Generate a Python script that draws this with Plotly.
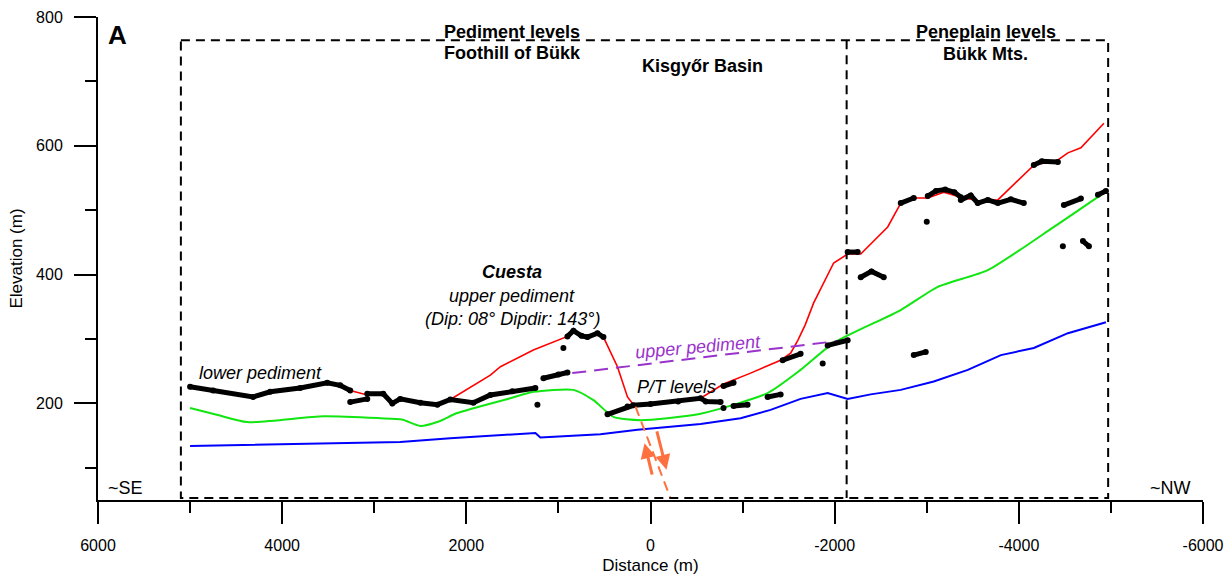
import plotly.graph_objects as go

FONT = "Liberation Sans, Arial, sans-serif"

# ---------------- data ----------------
blue_x = [5000, 3805, 2718, 2174, 1522, 1250, 1196, 544, 141, -544, -978, -1304, -1630, -1924, -2141, -2391,
          -2718, -3076, -3446, -3805, -4163, -4533, -4946]
blue_y = [134, 137, 140, 146, 151, 154, 147, 152, 159, 168, 177, 190, 207, 216, 207, 214,
          221, 234, 252, 275, 286, 309, 326]

green_x = [5000, 4700, 4380, 3554, 2935, 2700, 2500, 2300, 2098, 1522, 1272, 837, 620, 402, 109, -544, -1272,
           -1630, -1989, -2718, -3120, -3663, -4380, -4924]
green_y = [193, 182, 171, 180, 177, 175, 165, 172, 185, 208, 218, 221, 205, 179, 174, 184, 216,
           252, 294, 345, 381, 407, 474, 527]

red_x = [5000, 4315, 4130, 3511, 3261, 3076, 2902, 2804, 2718, 2500, 2315, 2174, 1739, 1630, 1272, 902, 837,
         685, 576, 511, 359, 250, 185, -109, -544, -793, -1087, -1413, -1522, -1600, -1680, -1772, -1989,
         -2141, -2283, -2576, -2718, -2859, -3011, -3185, -3370, -3587, -3772, -4163, -4424, -4533, -4674, -4924]
red_y = [226, 210, 218, 232, 220, 213, 214, 200, 206, 201, 198, 206, 244, 257, 283, 304, 313,
         303, 309, 303, 257, 210, 198, 200, 208, 230, 247, 267, 278, 298, 322, 356, 418,
         432, 432, 474, 511, 519, 519, 528, 520, 514, 516, 570, 578, 589, 597, 635]

# black "level" segments (None separates segments)
levels_x = [5000, 4750, 4315, 4130, 3805, 3511, 3370, 3261, None,
            3076, 2902, 2804, 2718, 2500, 2315, 2174, 1924, 1739, 1500, 1250, None,
            3261, 3076, None,
            1228, None,
            946, None,
            1163, 1000, 902, None,
            902, 837, 750, 685, 576, 511, None,
            467, 250, 185, 0, -300, -544, -600, -761, None,
            -793, None,
            -902, -1054, None,
            -793, -902, None,
            -1272, -1413, None,
            -1435, -1630, None,
            -1870, None,
            -1924, -2141, None,
            -2141, -2250, None,
            -2283, -2400, -2533, None,
            -3000, None,
            -2859, -2989, None,
            -2718, -2859, None,
            -3011, -3100, -3200, -3300, -3370, None,
            -3370, -3478, -3554, -3663, -3772, -3913, -4054, None,
            -4163, -4250, -4424, None,
            -4489, -4674, None,
            -4478, None,
            -4696, -4761, None,
            -4859, -4946]
levels_y = [226, 220, 210, 218, 224, 232, 228, 220, None,
            215, 215, 200, 207, 201, 198, 206, 201, 213, 219, 224, None,
            202, 207, None,
            198, None,
            286, None,
            239, 245, 248, None,
            304, 313, 305, 303, 309, 303, None,
            183, 195, 197, 199, 203, 208, 203, 202, None,
            193, None,
            196, 198, None,
            227, 232, None,
            210, 214, None,
            267, 277, None,
            262, None,
            290, 298, None,
            435, 435, None,
            396, 405, 396, None,
            482, None,
            275, 280, None,
            511, 519, None,
            522, 530, 532, 528, 520, None,
            516, 523, 511, 516, 511, 517, 511, None,
            570, 576, 575, None,
            508, 518, None,
            444, None,
            452, 444, None,
            524, 530]

upper_ped_x = [1087, -2098]
upper_ped_y = [243, 298]

fault_x = [163, -217]
fault_y = [195, 53]

box_left, box_mid, box_right = 5100, -2130, -4970
box_top, box_bottom = 764, 53

x_ticks = [6000, 4000, 2000, 0, -2000, -4000, -6000]
y_ticks = [200, 400, 600, 800]

# ---------------- figure ----------------
fig = go.Figure()

fig.add_trace(go.Scatter(x=blue_x, y=blue_y, mode="lines", line=dict(color="#0000FF", width=2), hoverinfo="skip"))
fig.add_trace(go.Scatter(x=green_x, y=green_y, mode="lines", line=dict(color="#11E611", width=2, shape="spline", smoothing=0.6), hoverinfo="skip"))
fig.add_trace(go.Scatter(x=red_x, y=red_y, mode="lines", line=dict(color="#FF0000", width=1.6), hoverinfo="skip"))
fig.add_trace(go.Scatter(x=upper_ped_x, y=upper_ped_y, mode="lines",
                         line=dict(color="#9933CC", width=2, dash="14px,8px"), hoverinfo="skip"))
fig.add_trace(go.Scatter(x=levels_x, y=levels_y, mode="lines+markers",
                         line=dict(color="black", width=5), marker=dict(color="black", size=6),
                         connectgaps=False, hoverinfo="skip"))
fig.add_trace(go.Scatter(x=fault_x, y=fault_y, mode="lines",
                         line=dict(color="#FF7040", width=2, dash="10px,6px"), hoverinfo="skip"))

# dashed frame boxes
box_style = dict(color="black", width=2, dash="9px,6px")
fig.add_trace(go.Scatter(x=[box_left, box_right, box_right, box_left, box_left],
                         y=[box_top, box_top, box_bottom, box_bottom, box_top],
                         mode="lines", line=box_style, hoverinfo="skip"))
fig.add_trace(go.Scatter(x=[box_mid, box_mid], y=[box_top, box_bottom],
                         mode="lines", line=box_style, hoverinfo="skip"))

# fault arrows
fig.add_annotation(x=65, y=138, ax=-22, ay=87, xref="x", yref="y", axref="x", ayref="y",
                   showarrow=True, arrowhead=2, arrowsize=1, arrowwidth=3, arrowcolor="#FF7040", text="")
fig.add_annotation(x=-174, y=97, ax=-65, ay=159, xref="x", yref="y", axref="x", ayref="y",
                   showarrow=True, arrowhead=2, arrowsize=1, arrowwidth=3, arrowcolor="#FF7040", text="")

def txt(x, y, t, size=18, bold=False, italic=False, color="black", xanchor="center", angle=0):
    s = t
    if bold:
        s = "<b>" + s + "</b>"
    if italic:
        s = "<i>" + s + "</i>"
    fig.add_annotation(x=x, y=y, xref="x", yref="y", text=s, showarrow=False, xanchor=xanchor,
                       yanchor="middle", textangle=angle,
                       font=dict(family=FONT, size=size, color=color))

txt(5913, 772, "A", size=26, bold=True, xanchor="left")
txt(1500, 777, "Pediment levels", bold=True)
txt(1500, 744, "Foothill of Bükk", bold=True)
txt(-565, 724, "Kisgyőr Basin", bold=True)
txt(-3641, 777, "Peneplain levels", bold=True)
txt(-3641, 743, "Bükk Mts.", bold=True)
txt(1500, 404, "Cuesta", bold=True, italic=True)
txt(1500, 367, "upper pediment", italic=True)
txt(1500, 331, "(Dip: 08° Dipdir: 143°)", italic=True)
txt(4239, 247, "lower pediment", italic=True)
txt(-511, 288, "upper pediment", italic=True, color="#9933CC", angle=-5)
txt(-283, 225, "P/T levels", italic=True)
txt(5913, 69, "~SE", size=18, xanchor="left")
txt(-5890, 69, "~NW", size=18, xanchor="right")

fig.update_layout(
    width=1232, height=579,
    margin=dict(l=98, r=29, t=17, b=79),
    paper_bgcolor="white", plot_bgcolor="white",
    showlegend=False,
    font=dict(family=FONT, size=16, color="black"),
    xaxis=dict(range=[6000, -6000], tickvals=x_ticks, ticktext=[str(v) for v in x_ticks],
               automargin=False,
               ticks="outside", ticklen=22, tickwidth=1.5, tickcolor="black", ticklabelstandoff=8,
               showline=True, linecolor="black", linewidth=2, showgrid=False, zeroline=False,
               minor=dict(dtick=1000, ticks="outside", ticklen=11, tickwidth=1.5, tickcolor="black", showgrid=False),
               tickfont=dict(size=16), title=dict(text="Distance (m)", font=dict(size=17), standoff=6)),
    yaxis=dict(range=[50, 800], tickvals=y_ticks, ticktext=[str(v) for v in y_ticks],
               automargin=False,
               ticks="outside", ticklen=22, tickwidth=1.5, tickcolor="black", ticklabelstandoff=8,
               showline=True, linecolor="black", linewidth=2, showgrid=False, zeroline=False,
               minor=dict(tickvals=[100, 300, 500, 700], ticks="outside", ticklen=11, tickwidth=1.5,
                          tickcolor="black", showgrid=False),
               tickfont=dict(size=16), title=dict(text="Elevation (m)", font=dict(size=17), standoff=9)),
)

fig.write_html("out.html")
